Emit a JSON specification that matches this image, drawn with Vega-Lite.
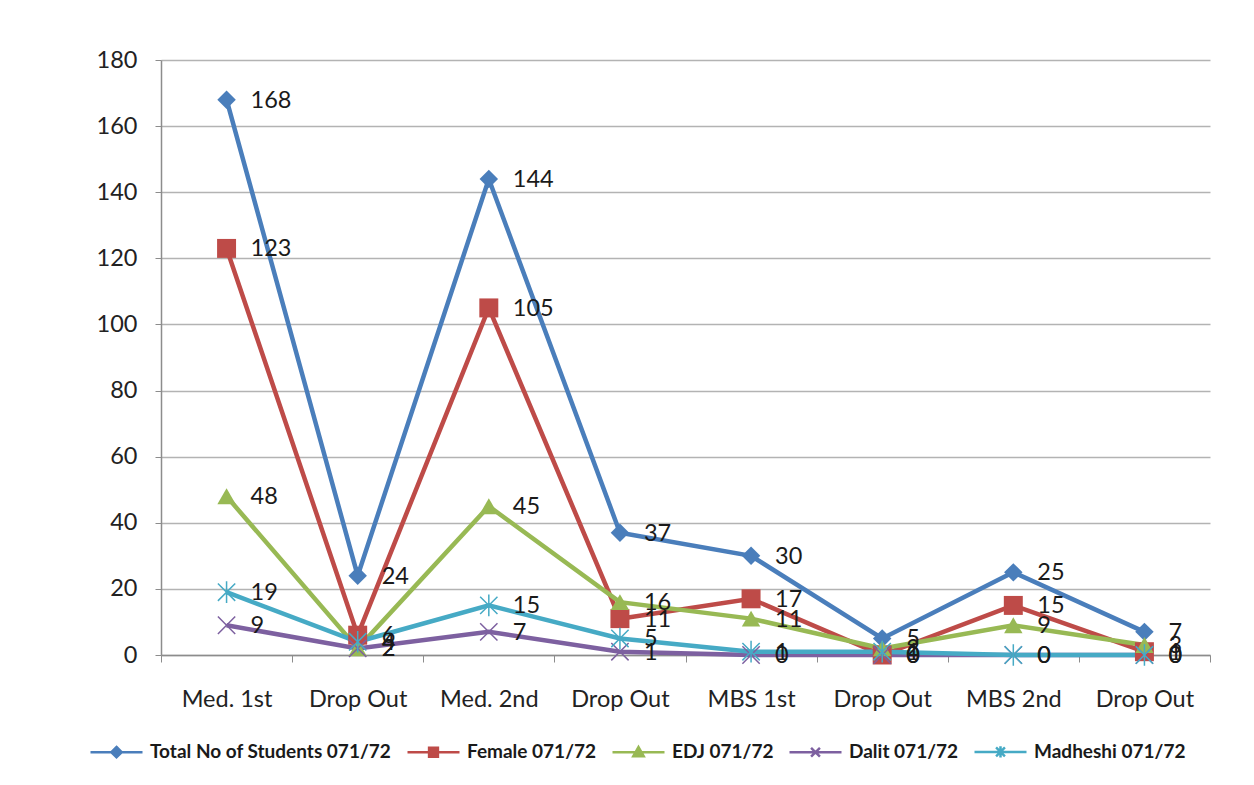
{
  "$schema": "https://vega.github.io/schema/vega-lite/v6.json",
  "width": 1049,
  "height": 595,
  "autosize": {"type": "none"},
  "padding": {"left": 161, "top": 60, "right": 44, "bottom": 130},
  "background": "white",
  "config": {
    "view": {"stroke": null},
    "font": "Lato",
    "legend": {"padding": 0}
  },
  "data": {
    "values": [
      {"stage": "Med. 1st", "Total No of Students 071/72": 168, "Female 071/72": 123, "EDJ 071/72": 48, "Dalit 071/72": 9, "Madheshi 071/72": 19},
      {"stage": "Drop Out 1", "Total No of Students 071/72": 24, "Female 071/72": 6, "EDJ 071/72": 2, "Dalit 071/72": 2, "Madheshi 071/72": 4},
      {"stage": "Med. 2nd", "Total No of Students 071/72": 144, "Female 071/72": 105, "EDJ 071/72": 45, "Dalit 071/72": 7, "Madheshi 071/72": 15},
      {"stage": "Drop Out 2", "Total No of Students 071/72": 37, "Female 071/72": 11, "EDJ 071/72": 16, "Dalit 071/72": 1, "Madheshi 071/72": 5},
      {"stage": "MBS 1st", "Total No of Students 071/72": 30, "Female 071/72": 17, "EDJ 071/72": 11, "Dalit 071/72": 0, "Madheshi 071/72": 1},
      {"stage": "Drop Out 3", "Total No of Students 071/72": 5, "Female 071/72": 0, "EDJ 071/72": 2, "Dalit 071/72": 0, "Madheshi 071/72": 1},
      {"stage": "MBS 2nd", "Total No of Students 071/72": 25, "Female 071/72": 15, "EDJ 071/72": 9, "Dalit 071/72": 0, "Madheshi 071/72": 0},
      {"stage": "Drop Out 4", "Total No of Students 071/72": 7, "Female 071/72": 1, "EDJ 071/72": 3, "Dalit 071/72": 0, "Madheshi 071/72": 0}
    ]
  },
  "transform": [
    {"fold": ["Total No of Students 071/72", "Female 071/72", "EDJ 071/72", "Dalit 071/72", "Madheshi 071/72"], "as": ["series", "value"]}
  ],
  "encoding": {
    "x": {
      "field": "stage",
      "type": "ordinal",
      "sort": ["Med. 1st", "Drop Out 1", "Med. 2nd", "Drop Out 2", "MBS 1st", "Drop Out 3", "MBS 2nd", "Drop Out 4"],
      "scale": {"type": "band", "paddingInner": 0, "paddingOuter": 0},
      "axis": {
        "title": null,
        "labelAngle": 0,
        "labelExpr": "indexof(datum.label, 'Drop Out') === 0 ? 'Drop Out' : datum.label",
        "labelFont": "Lato",
        "labelFontSize": 23.5,
        "labelColor": "#222222",
        "labelPadding": 25,
        "tickBand": "extent",
        "tickSize": 7,
        "tickColor": "#8c8c8c",
        "domainColor": "#8c8c8c",
        "domainWidth": 1.5,
        "grid": false
      }
    },
    "y": {
      "field": "value",
      "type": "quantitative",
      "scale": {"domain": [0, 180], "nice": false},
      "axis": {
        "title": null,
        "values": [0, 20, 40, 60, 80, 100, 120, 140, 160, 180],
        "labelFont": "Lato",
        "labelFontSize": 23.5,
        "labelColor": "#222222",
        "labelPadding": 18,
        "tickSize": 6,
        "tickColor": "#8c8c8c",
        "domainColor": "#8c8c8c",
        "domainWidth": 1.5,
        "gridColor": "#b3b3b3",
        "gridWidth": 1.5
      }
    },
    "color": {
      "field": "series",
      "type": "nominal",
      "scale": {
        "domain": ["Total No of Students 071/72", "Female 071/72", "EDJ 071/72", "Dalit 071/72", "Madheshi 071/72"],
        "range": ["#4A7EBB", "#BE4B48", "#98B954", "#7D60A0", "#46AAC5"]
      }
    }
  },
  "layer": [
    {
      "mark": {"type": "line", "strokeWidth": 4.5},
      "encoding": {
        "detail": {"field": "series"},
        "color": {
          "field": "series",
          "type": "nominal",
          "legend": {
            "title": null,
            "orient": "none",
            "legendX": -72,
            "legendY": 664,
            "direction": "horizontal",
            "columns": 5,
            "symbolSize": 2704,
            "labelFont": "Lato",
            "labelFontWeight": "bold",
            "labelFontSize": 19,
            "labelColor": "#1a1a1a",
            "labelOffset": 6,
            "labelLimit": 400,
            "columnPadding": 10,
            "encode": {
              "symbols": {
                "update": {
                  "shape": {"signal": "datum.value === 'Total No of Students 071/72' ? 'M-1,0H1M0,-0.2L0.2,0L0,0.2L-0.2,0Z' : datum.value === 'Female 071/72' ? 'M-1,0H1M-0.17,-0.17H0.17V0.17H-0.17Z' : datum.value === 'EDJ 071/72' ? 'M-1,0H1M0,-0.2L0.2,0.15H-0.2Z' : datum.value === 'Dalit 071/72' ? 'M-1,0H1M-0.17,-0.17L0.17,0.17M-0.17,0.17L0.17,-0.17' : 'M-1,0H1M-0.17,-0.17L0.17,0.17M-0.17,0.17L0.17,-0.17M0,-0.22V0.22'"},
                  "fill": {"signal": "datum.value === 'Dalit 071/72' || datum.value === 'Madheshi 071/72' ? 'transparent' : scale('color', datum.value)"},
                  "stroke": {"signal": "scale('color', datum.value)"},
                  "strokeWidth": {"value": 2.5},
                  "opacity": {"value": 1}
                }
              }
            }
          }
        }
      }
    },
    {
      "transform": [{"filter": {"field": "series", "equal": "Total No of Students 071/72"}}],
      "mark": {"type": "point", "filled": true, "opacity": 1, "size": 340, "shape": "diamond"}
    },
    {
      "transform": [{"filter": {"field": "series", "equal": "Female 071/72"}}],
      "mark": {"type": "point", "filled": true, "opacity": 1, "size": 360, "shape": "square"}
    },
    {
      "transform": [{"filter": {"field": "series", "equal": "EDJ 071/72"}}],
      "mark": {"type": "point", "filled": true, "opacity": 1, "size": 340, "shape": "triangle-up"}
    },
    {
      "transform": [{"filter": {"field": "series", "equal": "Dalit 071/72"}}],
      "mark": {"type": "point", "filled": false, "opacity": 1, "size": 300, "strokeWidth": 1.5, "shape": "M-1,-1L1,1M-1,1L1,-1"}
    },
    {
      "transform": [{"filter": {"field": "series", "equal": "Madheshi 071/72"}}],
      "mark": {"type": "point", "filled": false, "opacity": 1, "size": 300, "strokeWidth": 1.5, "shape": "M-1,-1L1,1M-1,1L1,-1M0,-1.25V1.25"}
    },
    {
      "mark": {"type": "text", "align": "left", "baseline": "middle", "dx": 24, "dy": 1, "font": "Lato", "fontSize": 23.5, "color": "#1a1a1a"},
      "encoding": {
        "text": {"field": "value", "type": "quantitative"},
        "color": {"value": "#1a1a1a"}
      }
    }
  ]
}
